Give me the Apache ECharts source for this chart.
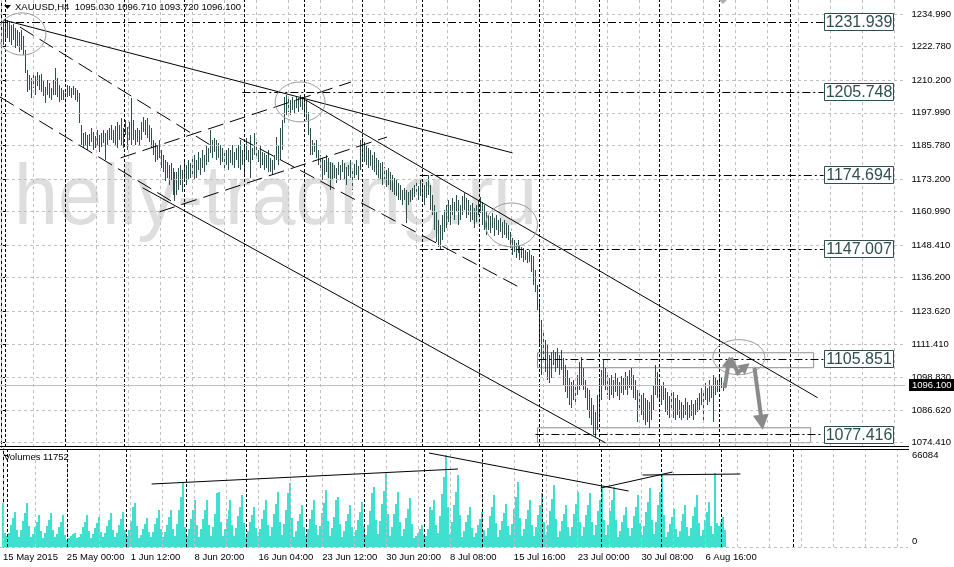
<!DOCTYPE html>
<html><head><meta charset="utf-8">
<script src="https://cdn.jsdelivr.net/npm/echarts@6/dist/echarts.min.js"></script>
<style>html,body{margin:0;padding:0;background:#fff}#c{width:954px;height:567px}</style>
</head><body><div id="c"></div>
<script>
// ---------- DATA ----------
const symbolTitle = 'XAUUSD,H4  1095.030 1096.710 1093.720 1096.100';
const volumeTitle = 'Volumes 11752';
const highs = [
1227.9,1232.7,1233.5,1232.7,1232.0,1230.9,1231.2,1229.8,1229.0,1228.3,1229.0,1226.8,
1221.5,1214.0,1212.2,1211.0,1212.9,1211.8,1213.3,1212.2,1212.5,1210.3,1207.7,1210.3,
1209.2,1207.3,1210.3,1214.8,1211.0,1208.4,1207.3,1206.5,1206.5,1208.4,1208.0,1207.3,
1208.0,1207.3,1206.5,1205.4,1193.4,1190.4,1190.8,1189.7,1190.1,1192.3,1190.8,1189.3,
1191.6,1189.7,1190.4,1191.6,1190.4,1191.6,1192.3,1193.4,1191.6,1193.1,1194.6,1193.4,
1196.1,1192.3,1195.3,1192.7,1194.6,1203.5,1195.3,1191.6,1192.3,1191.6,1194.6,1196.5,
1195.3,1196.1,1193.4,1192.3,1187.8,1186.7,1186.0,1187.8,1184.1,1182.2,1180.3,1179.6,
1178.5,1179.2,1177.4,1175.9,1175.9,1177.4,1178.5,1176.6,1179.6,1178.5,1180.3,1179.2,
1181.1,1182.2,1180.3,1183.3,1181.1,1184.1,1182.2,1186.0,1184.8,1191.6,1187.8,1188.6,
1187.8,1186.7,1186.0,1184.8,1184.1,1184.1,1184.8,1184.1,1186.0,1183.3,1184.8,1186.0,
1187.8,1184.1,1186.0,1188.6,1184.1,1189.7,1184.8,1190.4,1187.1,1184.1,1186.0,1183.3,
1183.0,1182.2,1184.1,1181.1,1180.3,1182.2,1189.0,1186.0,1192.3,1195.3,1203.9,1204.7,
1203.5,1202.8,1203.9,1202.8,1204.3,1203.5,1204.7,1203.9,1203.5,1202.8,1198.3,1192.3,
1187.8,1186.7,1187.8,1184.1,1182.2,1181.1,1180.3,1182.2,1181.1,1179.6,1179.2,1178.5,
1177.4,1179.6,1178.5,1180.3,1179.2,1177.7,1178.5,1180.3,1177.4,1178.8,1180.3,1178.1,
1187.8,1188.6,1187.1,1186.0,1184.8,1184.1,1182.2,1183.3,1181.1,1180.3,1179.2,1179.6,
1177.7,1176.6,1177.4,1175.9,1174.7,1173.6,1172.9,1171.7,1171.0,1169.1,1169.9,1169.1,
1168.4,1169.1,1169.9,1171.0,1172.1,1170.6,1172.9,1171.7,1171.0,1172.1,1174.7,1171.0,
1167.2,1163.5,1160.9,1157.9,1156.0,1159.8,1161.6,1163.5,1165.4,1163.5,1166.1,1164.6,
1167.2,1165.4,1163.5,1166.9,1168.0,1166.1,1165.4,1163.5,1164.2,1162.4,1163.5,1165.4,
1166.5,1164.6,1163.5,1160.9,1159.8,1159.4,1160.5,1158.6,1159.8,1157.9,1158.6,1157.1,
1157.9,1156.8,1156.0,1153.4,1151.1,1150.4,1149.3,1150.4,1148.5,1147.8,1147.4,1146.7,
1145.9,1146.7,1144.8,1144.4,1139.2,1133.6,1127.9,1120.5,1116.7,1113.0,1111.1,1107.3,
1108.5,1109.2,1108.5,1110.0,1107.3,1109.2,1106.2,1103.6,1101.7,1098.7,1097.2,1098.0,
1096.1,1099.9,1104.7,1106.6,1102.5,1098.0,1095.0,1094.3,1091.3,1088.6,1086.0,1092.4,
1098.7,1101.7,1105.5,1102.5,1101.0,1098.7,1099.9,1098.0,1100.6,1098.7,1097.2,1099.5,
1098.7,1101.0,1099.5,1101.7,1102.5,1099.9,1098.0,1094.3,1094.3,1092.4,1093.1,1091.3,
1090.5,1089.8,1092.4,1096.1,1103.6,1101.0,1098.0,1096.1,1097.2,1095.0,1093.5,1092.0,
1093.1,1093.5,1091.3,1092.4,1090.5,1089.8,1088.6,1091.3,1089.8,1088.6,1090.5,1089.0,
1090.5,1091.3,1093.1,1095.0,1093.5,1096.9,1095.0,1098.0,1096.1,1099.9,1098.7,1098.0,
1099.5,1098.7,1096.71];
const lows = [
1215.9,1223.4,1225.3,1226.0,1224.5,1223.4,1225.3,1222.3,1223.0,1220.8,1221.5,1219.6,
1212.9,1205.8,1206.5,1203.5,1207.3,1204.7,1208.0,1206.5,1205.8,1204.3,1201.7,1204.7,
1203.5,1202.8,1204.7,1204.7,1203.9,1202.1,1202.8,1202.8,1203.5,1203.9,1204.3,1203.5,
1204.7,1202.8,1202.1,1194.2,1186.0,1184.8,1186.0,1184.1,1185.6,1187.1,1184.1,1184.8,
1186.0,1183.3,1185.2,1186.7,1180.3,1186.0,1187.8,1187.8,1186.7,1186.0,1184.8,1187.8,
1186.0,1184.8,1189.7,1184.1,1187.8,1186.0,1187.8,1186.0,1187.1,1185.6,1187.8,1190.8,
1189.7,1188.6,1187.1,1184.8,1182.2,1179.6,1180.3,1181.1,1177.4,1175.9,1172.5,1173.6,
1171.0,1172.9,1167.2,1165.0,1167.2,1169.1,1171.0,1168.4,1172.9,1171.0,1172.9,1173.6,
1174.7,1172.9,1173.6,1176.6,1174.7,1177.4,1175.9,1178.5,1179.6,1183.0,1181.1,1183.3,
1180.3,1181.1,1178.5,1179.6,1177.4,1178.5,1176.6,1179.2,1178.5,1177.4,1180.3,1177.4,
1176.6,1178.5,1174.7,1180.3,1179.6,1173.6,1180.3,1182.2,1181.1,1179.6,1177.4,1178.5,
1176.6,1177.4,1175.9,1175.9,1174.7,1176.6,1180.3,1178.5,1180.3,1184.1,1194.2,1197.2,
1198.3,1197.2,1199.1,1197.9,1199.8,1198.3,1200.2,1199.1,1197.2,1195.3,1189.7,1182.2,
1182.2,1183.3,1181.1,1178.5,1176.6,1172.9,1174.7,1175.9,1173.6,1169.1,1172.9,1173.6,
1171.7,1174.7,1172.9,1175.9,1172.9,1171.0,1174.3,1173.6,1169.1,1173.6,1174.7,1172.9,
1176.6,1180.3,1179.6,1178.5,1177.4,1178.1,1176.6,1175.9,1174.7,1173.6,1172.9,1171.0,
1171.7,1170.2,1171.0,1169.1,1168.4,1167.2,1166.9,1165.4,1165.4,1163.5,1165.4,1156.8,
1163.5,1164.6,1165.4,1166.5,1167.2,1165.4,1166.9,1165.4,1163.5,1166.1,1167.2,1161.6,
1159.8,1154.1,1149.7,1147.8,1146.7,1150.4,1153.4,1154.9,1157.1,1156.0,1159.8,1157.9,
1160.9,1156.0,1157.9,1159.8,1161.6,1158.6,1159.8,1157.1,1157.9,1154.9,1157.1,1159.8,
1160.5,1156.0,1154.1,1152.3,1154.1,1153.0,1154.9,1151.9,1154.1,1152.3,1153.4,1151.1,
1152.3,1151.1,1150.4,1147.4,1144.8,1145.9,1143.7,1145.5,1142.9,1143.7,1142.2,1142.9,
1141.8,1142.2,1138.4,1133.6,1130.9,1124.2,1111.1,1099.9,1105.5,1101.0,1098.0,1096.9,
1098.7,1103.6,1101.0,1102.5,1099.9,1101.7,1096.1,1093.5,1091.3,1088.6,1087.5,1090.5,
1089.4,1092.4,1094.3,1096.1,1094.3,1091.3,1086.8,1083.8,1081.2,1077.4,1076.7,1079.3,
1083.0,1090.5,1096.1,1094.3,1092.4,1090.5,1092.4,1091.3,1093.5,1092.0,1090.5,1093.1,
1092.4,1094.3,1092.4,1095.0,1094.3,1091.3,1090.5,1082.3,1086.8,1084.9,1083.0,1081.2,
1082.3,1080.0,1083.0,1086.8,1092.4,1091.3,1089.8,1088.6,1090.5,1086.0,1084.9,1083.8,
1086.8,1083.8,1083.0,1084.9,1083.8,1083.0,1083.8,1084.9,1083.0,1083.8,1084.5,1083.0,
1084.9,1086.0,1086.8,1088.6,1083.0,1090.5,1088.6,1089.8,1091.3,1082.3,1092.4,1093.5,
1094.3,1095.0,1093.72];
const volumes = [
29200,6400,
4100,7000,12600,17800,22900,9200,
3600,8700,16000,21700,29200,11600,
3900,6000,11000,15300,20300,8100,
3200,6600,12100,16500,21600,8800,
3500,6100,11000,15000,20300,5000,
1300,2500,4200,5800,7000,3000,
3300,6000,11200,15000,20300,8000,
3000,5700,10500,14200,19100,7600,
3600,6500,12000,16500,21600,8700,
3900,6900,12600,17300,22900,9100,
4200,8700,16000,26700,29200,11700,
3100,5400,9900,13500,17800,7200,
3800,7200,13200,18000,24200,9600,
3700,7500,12800,18500,23800,9900,
4500,13200,24200,34300,44500,11500,
4200,9600,17600,24000,31800,12700,
3900,9500,17500,24500,31800,12500,
4600,11400,20900,36900,38100,15200,
4000,9600,17600,24200,31800,12700,
4300,10700,19600,26700,35600,14200,
3700,8000,14700,20000,26700,10700,
4100,9500,17500,24000,31800,12700,
4700,11400,21000,28600,38100,15200,
5200,13300,24500,36900,44500,17800,
3900,8400,15400,21000,28000,11200,
4000,9600,17600,24200,31800,12700,
4800,11800,21700,29600,39400,15800,
4400,10300,18900,31800,34300,13700,
3800,8400,15400,21000,28000,11200,
4100,9200,16800,22900,30500,12200,
5000,12600,23100,36900,41900,16800,
5800,15600,28600,39000,52100,20800,
4700,11400,21000,28600,38100,15200,
4300,9900,18200,24800,33000,13200,
2500,4000,7000,9800,12700,5100,
4000,9500,26700,24000,31800,12700,
6500,19800,36300,49600,66084,26400,
5900,15200,28000,38100,50800,20300,
3700,8000,14700,20000,26700,10700,
3500,6900,12600,17200,22900,9200,
4300,10700,19600,26700,35600,14200,
3900,8700,16000,21700,29000,11600,
5400,13700,25100,34300,45700,18300,
4000,9600,17600,24000,31800,12700,
4600,11100,20300,27700,36900,14700,
5100,12900,23700,32300,43000,17200,
3800,8400,15400,21000,28000,11200,
4700,11400,21000,28600,38100,15200,
4500,11100,20300,27700,36900,14700,
5000,12600,23100,31500,41900,16800,
5100,12600,23100,31500,41900,16800,
3700,8000,14700,20000,26700,10700,
4300,10700,19600,26700,35600,14200,
4900,12200,22300,30500,40600,16300,
5900,15200,28000,38100,50800,20300,
3600,7500,13800,18800,25000,10000,
3800,8400,15400,21000,28000,11200,
4300,10700,19600,26700,35600,14200,
4000,9000,16500,22500,30000,12000,
5800,52100,14000,12000,15000,19000,9000];
const lastClose = 1096.10;

const priceTicks = [1234.990,1222.780,1210.200,1197.990,1185.780,1173.200,1160.990,1148.410,1136.200,1123.620,1111.410,1098.830,1086.620,1074.410];
const volumeTicks = [0, 66084];
const timeLabels = ['15 May 2015','25 May 00:00','1 Jun 12:00','8 Jun 20:00','16 Jun 04:00','23 Jun 12:00','30 Jun 20:00','8 Jul 08:00','15 Jul 16:00','23 Jul 00:00','30 Jul 08:00','6 Aug 16:00'];
const timeLabelStep = 32;       // bars between time labels
const timeGridStep = 16;        // bars between vertical grid lines
const weekSeparators = [2,32,62,92,122,152,181,211,240,270,300,330,360,396];
const totalSlots = 454;

// drawn objects (bar index, price)
const levels = [1231.939,1205.748,1174.694,1147.007,1105.851,1077.416];
const levelStarts = [-0.5,121,210,210,269.5,268];
const levelEnd = 412.5;
const solidTrends = [[[1.3,1232.74],[256.5,1182.96]],[[151,1203.55],[409.5,1091.26]],[[71,1169.9],[303,1074.4]]];
const dashedTrends = [[[-0.5,1203.9],[87,1164.2]],[[9.5,1230.1],[106.5,1185.2]],[[119.5,1188.6],[259.5,1132.8]],[[60,1181.1],[175.5,1209.5]],[[79.5,1160.9],[193.5,1188.9]]];
const zoneBoxes = [[269,1108.1,407.5,1102.5],[269,1080.0,406,1074.4]];
const ellipses = [[-1.5,1235.4,22.5,1219.6],[137.5,1209.5,162.5,1194.6],[243,1164.2,269,1147.8],[357,1113.0,383,1099.9]];
const arrowPaths = [[[362.85,1094.9],[365.35,1106.7]],[[366,1106.2],[369.5,1100.6],[375.35,1104.2]],[[377.85,1102.4],[382,1079.3]]];
const topMarker = [362,1240.6];
// volume trend lines (bar index, volume)
const volumeTrends = [[[74.5,43970],[228,55400]],[[213.5,67590],[313.5,38630]],[[299.5,40920],[335.5,53110]],[[320.5,50830],[369.5,51590]]];

// ---------- CHART ----------
const SANS = '"Liberation Sans",Arial,sans-serif';
const SMALL = 9.5;
const chart = echarts.init(document.getElementById('c'), null, {renderer:'canvas', width:954, height:567});

const gridStyle = {color:'#c0c0c0', width:1, type:[3,3]};
const sepStyle = {color:'#000', width:1, type:[3,2]};
const gridX = [];
for (let i = 0; i < totalSlots; i += timeGridStep) gridX.push(i);
const ml = (data, extra) => Object.assign({silent:true, symbol:['none','none'], label:{show:false}, animation:false, emphasis:{disabled:true}, data}, extra||{});
const pair = (a, b, style) => [{coord:a, lineStyle:style}, {coord:b}];

const option = {
  animation:false,
  backgroundColor:'#fff',
  grid:[{left:0, top:0, width:908, height:447}, {left:0, top:449, width:908, height:98}],
  xAxis:[
    {gridIndex:0, type:'value', min:-0.5, max:totalSlots-0.5, axisLine:{show:false}, axisTick:{show:false}, axisLabel:{show:false}, splitLine:{show:false}},
    {gridIndex:1, type:'value', min:-0.5, max:totalSlots-0.5, axisLine:{show:false}, axisTick:{show:false}, splitLine:{show:false},
     axisLabel:{customValues:timeLabels.map((_,k)=>k*timeLabelStep), formatter:(v)=>timeLabels[Math.round(v/timeLabelStep)]||'', align:'left', fontSize:SMALL, fontFamily:SANS, color:'#000', margin:5}}
  ],
  yAxis:[
    {gridIndex:0, type:'value', position:'right', min:1072.8, max:1240.23,
     axisLine:{show:true, lineStyle:{color:'#000', width:1}},
     axisTick:{show:true, customValues:priceTicks, length:4, lineStyle:{color:'#000'}},
     axisLabel:{customValues:priceTicks, formatter:(v)=>v.toFixed(3), fontSize:SMALL, fontFamily:SANS, color:'#000', margin:6},
     splitLine:{show:false}},
    {gridIndex:1, type:'value', position:'right', min:-4040, max:70657,
     axisLine:{show:true, lineStyle:{color:'#000', width:1}},
     axisTick:{show:true, customValues:volumeTicks, length:4, lineStyle:{color:'#000'}},
     axisLabel:{customValues:volumeTicks, formatter:(v)=>String(v), fontSize:SMALL, fontFamily:SANS, color:'#000', margin:4},
     splitLine:{show:false}}
  ],
  series:[
    {type:'line', xAxisIndex:0, yAxisIndex:0, data:[], z:1, silent:true,
     markLine: ml([
       ...priceTicks.map(v=>({yAxis:v, lineStyle:gridStyle})),
       ...gridX.map(v=>({xAxis:v, lineStyle:gridStyle})),
       ...weekSeparators.map(v=>({xAxis:v, lineStyle:sepStyle})),
       {yAxis:lastClose, lineStyle:{color:'#c0c0c0', width:1, type:'solid'}}
     ])},
    {type:'custom', xAxisIndex:0, yAxisIndex:0, z:3, silent:true,
     data: highs.map((h,i)=>[i,h,lows[i]]),
     encode:{x:0, y:[1,2]},
     renderItem:(params, api)=>{
       const i = api.value(0);
       const t = api.coord([i, api.value(1)]);
       const b = api.coord([i, api.value(2)]);
       const y1 = Math.round(t[1]), y2 = Math.round(b[1]);
       return {type:'rect', shape:{x:Math.round(t[0]), y:y1, width:1, height:Math.max(1, y2-y1)}, style:{fill:'#2F4F4F'}};
     }},
    {type:'line', xAxisIndex:0, yAxisIndex:0, data:[], z:5, silent:true,
     markLine: ml([
       ...levels.map((v,k)=>pair([levelStarts[k], v],[levelEnd, v],{color:'#000', width:1, type:[8,3,2,3]})),
       ...solidTrends.map(s=>pair(s[0], s[1], {color:'#000', width:1, type:'solid'})),
       ...dashedTrends.map(s=>pair(s[0], s[1], {color:'#000', width:1, type:[16,7]}))
     ]),
     markArea:{silent:true, animation:false, label:{show:false}, itemStyle:{color:'rgba(0,0,0,0)', borderColor:'#8c8c8c', borderWidth:1},
       data: zoneBoxes.map(b=>[{coord:[b[0], b[1]]},{coord:[b[2], b[3]]}])}},
    {type:'line', xAxisIndex:1, yAxisIndex:1, data:[], z:1, silent:true,
     markLine: ml([
       ...gridX.map(v=>({xAxis:v, lineStyle:gridStyle})),
       ...weekSeparators.map(v=>({xAxis:v, lineStyle:sepStyle}))
     ])},
    {type:'custom', xAxisIndex:1, yAxisIndex:1, z:3, silent:true,
     data: volumes.map((v,i)=>[i,v]),
     encode:{x:0, y:1},
     renderItem:(params, api)=>{
       const i = api.value(0);
       const t = api.coord([i, api.value(1)]);
       const b = api.coord([i, -4040]);
       const y1 = Math.round(t[1]);
       return {type:'rect', shape:{x:Math.round(t[0])-1, y:y1, width:2, height:Math.round(b[1])-y1}, style:{fill:'#40E0D0'}};
     }},
    {type:'line', xAxisIndex:1, yAxisIndex:1, data:[], z:5, silent:true,
     markLine: ml(volumeTrends.map(s=>pair(s[0], s[1], {color:'#000', width:1, type:'solid'})))}
  ]
};
chart.setOption(option);

// ---------- drawn objects needing pixel conversion ----------
const P = (g, p) => chart.convertToPixel({gridIndex:g}, p);
const gfx = [];
gfx.push({type:'text', x:14, y:200, z:-10, scaleX:0.92, silent:true,
  style:{text:'helly-trading.ru', font:'86px ' + SANS, fill:'#dedede', verticalAlign:'middle', align:'left'}});
ellipses.forEach(e=>{
  const a = P(0,[e[0], e[1]]), b = P(0,[e[2], e[3]]);
  const cx=(a[0]+b[0])/2, cy=(a[1]+b[1])/2, rx=Math.abs(b[0]-a[0])/2, ry=Math.abs(b[1]-a[1])/2;
  const pts=[]; for(let k=0;k<64;k++){const t=k/64*Math.PI*2; pts.push([cx+rx*Math.cos(t), cy+ry*Math.sin(t)]);}
  gfx.push({type:'polygon', z:20, silent:true, shape:{points:pts}, style:{fill:null, stroke:'#9a9a9a', lineWidth:1}});
});
arrowPaths.forEach((path, k)=>{
  const pts = path.map(p=>P(0,p));
  const big = k === 2;
  const len = big ? 15 : 11, half = big ? 8 : 6;
  const e = pts[pts.length-1], s = pts[pts.length-2];
  const dx=e[0]-s[0], dy=e[1]-s[1], L=Math.hypot(dx,dy), ux=dx/L, uy=dy/L;
  const bx=e[0]-ux*len, by=e[1]-uy*len;
  const linePts = pts.slice(0,-1).concat([[e[0]-ux*len*0.7, e[1]-uy*len*0.7]]);
  gfx.push({type:'polyline', z:21, silent:true, shape:{points:linePts}, style:{stroke:'#8a8a8a', lineWidth:4, fill:null}});
  gfx.push({type:'polygon', z:21, silent:true, shape:{points:[e,[bx-uy*half, by+ux*half],[bx+uy*half, by-ux*half]]}, style:{fill:'#8a8a8a'}});
});
{
  const m = P(0, topMarker);
  gfx.push({type:'polygon', z:21, silent:true, shape:{points:[[m[0]-5,m[1]],[m[0],m[1]+5],[m[0]+5,m[1]],[m[0],m[1]-5]]}, style:{fill:'#b0b0b0'}});
}
levels.forEach(v=>{
  const p = P(0,[levelEnd, v]);
  const y = Math.round(p[1]);
  gfx.push({type:'rect', z:22, silent:true, shape:{x:Math.round(p[0])+0.5, y:y-8.5, width:69, height:17}, style:{fill:'#fff', stroke:'#2F4F4F', lineWidth:1}});
  gfx.push({type:'text', z:23, silent:true, x:Math.round(p[0])+35, y:y+0.5, style:{text:v.toFixed(3), font:'16px ' + SANS, fill:'#2F4F4F', align:'center', verticalAlign:'middle'}});
});
{
  const p = P(0,[0, lastClose]);
  const y = Math.round(p[1]);
  gfx.push({type:'rect', z:22, silent:true, shape:{x:909, y:y-6, width:45, height:12}, style:{fill:'#000'}});
  gfx.push({type:'text', z:23, silent:true, x:912, y:y+0.5, style:{text:lastClose.toFixed(3), font:SMALL + 'px ' + SANS, fill:'#fff', align:'left', verticalAlign:'middle'}});
}
gfx.push({type:'polygon', z:22, silent:true, shape:{points:[[4,5],[11,5],[7.5,9]]}, style:{fill:'#000'}});
gfx.push({type:'text', z:22, silent:true, x:15, y:7.5, style:{text:symbolTitle, font:SMALL + 'px ' + SANS, fill:'#000', align:'left', verticalAlign:'middle'}});
gfx.push({type:'text', z:22, silent:true, x:4, y:457.5, style:{text:volumeTitle, font:SMALL + 'px ' + SANS, fill:'#000', align:'left', verticalAlign:'middle'}});
gfx.push({type:'line', z:22, silent:true, shape:{x1:0, y1:446.5, x2:909, y2:446.5}, style:{stroke:'#000', lineWidth:1}});
gfx.push({type:'line', z:22, silent:true, shape:{x1:0, y1:449.5, x2:909, y2:449.5}, style:{stroke:'#000', lineWidth:1}});
gfx.push({type:'line', z:22, silent:true, shape:{x1:0, y1:547.5, x2:908, y2:547.5}, style:{stroke:'#c0c0c0', lineWidth:1, lineDash:[3,3]}});
chart.setOption({graphic:{elements:gfx}});
</script></body></html>
